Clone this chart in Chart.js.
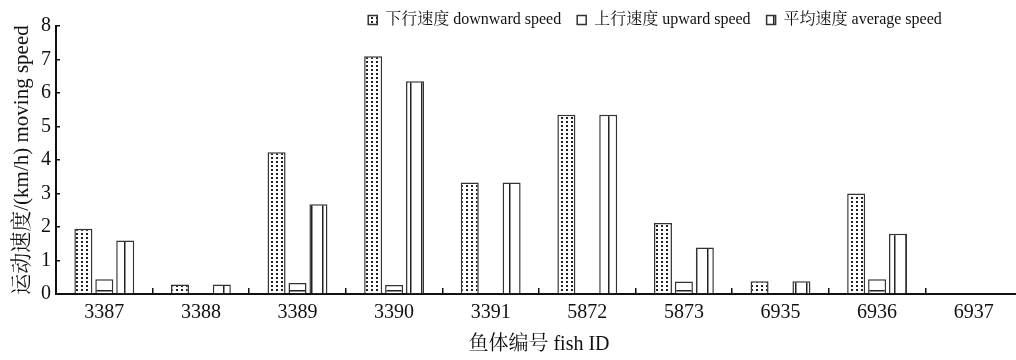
<!DOCTYPE html>
<html>
<head>
<meta charset="utf-8">
<script src="https://cdn.jsdelivr.net/npm/chart.js@4/dist/chart.umd.min.js"></script>
<style>
  html, body { margin: 0; padding: 0; background: #fff; overflow: hidden; }
  #wrap { width: 1024px; height: 360px; }
</style>
</head>
<body>
<div id="wrap"><canvas id="chart" width="1024" height="360"></canvas></div>
<script>
  "use strict";
  const fishIds = ["3387", "3388", "3389", "3390", "3391", "5872", "5873", "6935", "6936", "6937"];
  const downwardSpeed = [1.95, 0.28, 4.23, 7.1, 3.33, 5.35, 2.12, 0.38, 3.0, 0];
  const upwardSpeed = [0.44, 0, 0.33, 0.27, 0, 0, 0.37, 0, 0.44, 0];
  const averageSpeed = [1.6, 0.28, 2.68, 6.35, 3.33, 5.35, 1.39, 0.38, 1.8, 0];

  const FONT = "'Liberation Serif', 'Noto Serif CJK SC', 'Noto Sans CJK SC', serif";

  function makePattern(w, h, drawTile) {
    const c = document.createElement("canvas");
    c.width = w;
    c.height = h;
    const g = c.getContext("2d");
    g.fillStyle = "#fff";
    g.fillRect(0, 0, w, h);
    drawTile(g);
    return g.createPattern(c, "repeat");
  }

  const ctx = document.getElementById("chart").getContext("2d");
  const dotPattern = makePattern(5, 4, (g) => {
    g.fillStyle = "#222";
    g.fillRect(1, 1, 2, 2);
  });
  const hLinePattern = makePattern(8, 12, (g) => {
    g.fillStyle = "#222";
    g.fillRect(0, 2, 8, 1.5);
  });
  const vLinePattern = makePattern(11, 8, (g) => {
    g.fillStyle = "#222";
    g.fillRect(3, 0, 1.5, 8);
  });

  // legend sits right of centre in the original, and takes little height
  const legendPlace = {
    id: "legendPlace",
    beforeLayout(chart) {
      const lg = chart.legend;
      if (lg && !lg._fitPatched) {
        const fit = lg.fit.bind(lg);
        lg.fit = function () { fit(); this.height = 26; };
        lg._fitPatched = true;
      }
    },
    afterLayout(chart) {
      const lg = chart.legend;
      if (!lg) return;
      lg.left += 144; lg.right += 144;
      lg.top -= 4; lg.bottom = lg.top + 60;
    },
  };

  const common = { borderColor: "#333", borderWidth: 1.5, categoryPercentage: 0.65, barPercentage: 0.86 };

  new Chart(ctx, {
    type: "bar",
    data: {
      labels: fishIds,
      datasets: [
        { label: "下行速度 downward speed", data: downwardSpeed, backgroundColor: dotPattern, ...common },
        { label: "上行速度 upward speed", data: upwardSpeed, backgroundColor: hLinePattern, ...common },
        { label: "平均速度 average speed", data: averageSpeed, backgroundColor: vLinePattern, ...common },
      ],
    },
    plugins: [legendPlace],
    options: {
      responsive: false,
      animation: false,
      layout: { padding: { left: 0, right: 2, top: 0, bottom: 0 } },
      plugins: {
        tooltip: { enabled: false },
        legend: {
          position: "top",
          labels: {
            color: "#111",
            font: { family: FONT, size: 16 },
            boxWidth: 9,
            boxHeight: 9,
            padding: 16,
          },
        },
      },
      scales: {
        x: {
          grid: { drawOnChartArea: false, tickLength: -6, color: "#111", lineWidth: 1.5, offset: true },
          border: { color: "#111", width: 2 },
          ticks: { color: "#111", font: { family: FONT, size: 20 }, padding: 13 },
          title: {
            display: true,
            text: "鱼体编号 fish ID",
            color: "#111",
            font: { family: FONT, size: 20 },
            padding: { top: 0, bottom: 3 },
          },
          afterFit(scale) { scale.height = 66; },
        },
        y: {
          min: 0,
          max: 8,
          grid: { drawOnChartArea: false, tickLength: -4, color: "#111", lineWidth: 1.5 },
          border: { color: "#111", width: 2 },
          ticks: { stepSize: 1, color: "#111", font: { family: FONT, size: 20 }, padding: 9 },
          title: {
            display: true,
            text: "运动速度/(km/h) moving speed",
            color: "#111",
            font: { family: FONT, size: 21 },
            padding: { top: 10, bottom: 0 },
          },
          afterFit(scale) { scale.width = 56; },
        },
      },
    },
  });
</script>
</body>
</html>
